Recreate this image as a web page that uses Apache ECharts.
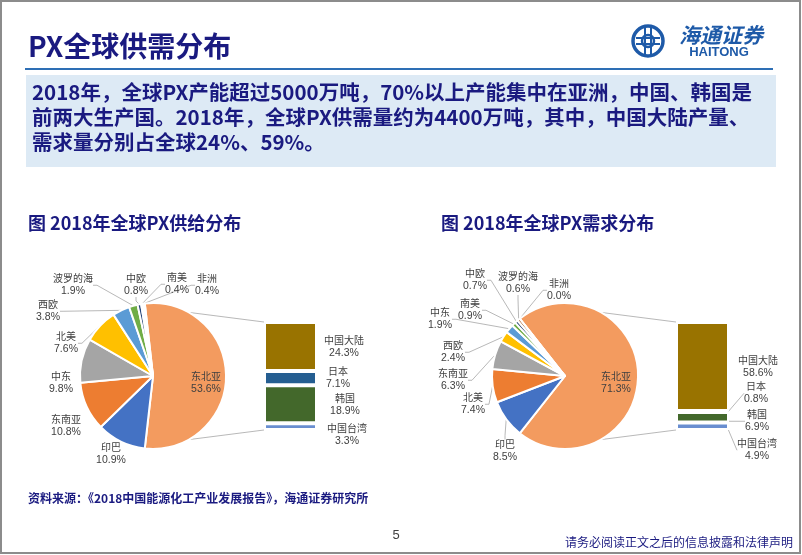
<!DOCTYPE html>
<html>
<head>
<meta charset="utf-8">
<script src="https://cdn.jsdelivr.net/npm/echarts@6.0.0/dist/echarts.min.js"></script>
<style>
html,body{margin:0;padding:0;background:#fff;}
#c{width:802px;height:555px;}
</style>
</head>
<body>
<div id="c"></div>
<script>
// ---------- DATA ----------
const supplyNames = ['东北亚','印巴','东南亚','中东','北美','西欧','波罗的海','中欧','南美','非洲'];
const supplyValues = [53.6, 10.9, 10.8, 9.8, 7.6, 3.8, 1.9, 0.8, 0.4, 0.4];
const supplySubNames = ['中国大陆','日本','韩国','中国台湾'];
const supplySubValues = [24.3, 7.1, 18.9, 3.3];

const demandNames = ['东北亚','印巴','北美','东南亚','西欧','中东','南美','中欧','波罗的海','非洲'];
const demandValues = [71.3, 8.5, 7.4, 6.3, 2.4, 1.9, 0.9, 0.7, 0.6, 0.0];
const demandSubNames = ['中国大陆','日本','韩国','中国台湾'];
const demandSubValues = [58.6, 0.8, 6.9, 4.9];

const slideTitle = 'PX全球供需分布';
const summaryLines = [
  '2018年，全球PX产能超过5000万吨，70%以上产能集中在亚洲，中国、韩国是',
  '前两大生产国。2018年，全球PX供需量约为4400万吨，其中，中国大陆产量、',
  '需求量分别占全球24%、59%。'
];
const leftTitle = '图 2018年全球PX供给分布';
const rightTitle = '图 2018年全球PX需求分布';
const sourceText = '资料来源：《2018中国能源化工产业发展报告》，海通证券研究所';
const pageNo = '5';
const disclaimer = '请务必阅读正文之后的信息披露和法律声明';

// ---------- STYLE / LAYOUT ----------
const navy = '#1A1A80';
const pieColors = ['#F39B5F','#4472C4','#ED7D31','#A5A5A5','#FFC000','#5B9BD5','#70AD47','#264478','#9E480E','#636363'];
const subColors = ['#997300','#255E91','#43682B','#698ED0'];
const R = 73;
const leftCenter = [153, 376];
const rightCenter = [565, 376];
const leftGrid = {left: 264, top: 322, width: 53, height: 108};
const rightGrid = {left: 676, top: 322, width: 53, height: 108};

const supplyLabelPos = [[206,383],[111,454],[66,426],[61,383],[66,343],[48,311],[73,285],[136,285],[177,284],[207,285]];
const supplyLabelLine = [false,false,false,false,true,true,true,true,true,true];
const supplySubLabelPos = [[344,347],[338,378],[345,405],[347,435]];
const supplySubLabelLine = [false,false,false,false];

const demandLabelPos = [[616,383],[505,451],[473,404],[453,380],[453,352],[440,319],[470,310],[475,280],[518,283],[559,290]];
const demandLabelLine = [false,true,true,true,true,true,true,true,true,true];
const demandSubLabelPos = [[758,367],[756,393],[757,421],[757,450]];
const demandSubLabelLine = [false,true,true,true];

const rich = {
  n: {fontFamily: 'Noto Sans CJK SC', fontSize: 10, color: '#404040', lineHeight: 13},
  v: {fontFamily: 'Liberation Sans, Arial, sans-serif', fontSize: 10.5, color: '#404040', lineHeight: 13}
};
const guide = {color: '#A6A6A6', width: 0.8};

function fmt(name, v) { return '{n|' + name + '}\n{v|' + Number(v).toFixed(1) + '%}'; }

function pieSeries(names, values, center, labelPos, lineOn) {
  return {
    type: 'pie', center: center, radius: R,
    startAngle: 3.6 * values[0] / 2, clockwise: true,
    avoidLabelOverlap: false, animation: false, silent: true,
    itemStyle: {borderColor: '#fff', borderWidth: 2},
    label: {show: true, position: 'outside', align: 'center', formatter: p => fmt(p.name, p.value), rich: rich},
    labelLine: {show: true, length: 4, length2: 4, lineStyle: guide},
    labelLayout: p => ({x: labelPos[p.dataIndex][0], y: labelPos[p.dataIndex][1], align: 'center', verticalAlign: 'middle'}),
    data: names.map((n, i) => ({name: n, value: values[i], itemStyle: {color: pieColors[i]}, labelLine: {show: lineOn[i], lineStyle: guide}}))
  };
}

function barSeries(names, values, gi, labelPos, lineOn) {
  const out = [];
  for (let i = names.length - 1; i >= 0; i--) {
    const pos = labelPos[i];
    out.push({
      type: 'bar', name: names[i], xAxisIndex: gi, yAxisIndex: gi, stack: 'sub' + gi,
      barWidth: '100%', animation: false, silent: true,
      data: [values[i]],
      itemStyle: {color: subColors[i], borderColor: '#fff', borderWidth: 2},
      label: {show: true, position: 'right', align: 'center', formatter: p => fmt(p.seriesName, p.value), rich: rich},
      labelLine: {show: lineOn[i], lineStyle: guide},
      labelLayout: () => ({x: pos[0], y: pos[1], align: 'center', verticalAlign: 'middle'})
    });
  }
  return out;
}

const sum = a => a.reduce((s, x) => s + x, 0);
const supplyMax = sum(supplySubValues);
const demandMax = sum(demandSubValues);

const chart = echarts.init(document.getElementById('c'), null, {renderer: 'canvas'});
chart.setOption({
  backgroundColor: '#fff',
  animation: false,
  grid: [
    Object.assign({containLabel: false}, leftGrid),
    Object.assign({containLabel: false}, rightGrid)
  ],
  xAxis: [
    {type: 'category', gridIndex: 0, data: ['x'], show: false},
    {type: 'category', gridIndex: 1, data: ['x'], show: false}
  ],
  yAxis: [
    {type: 'value', gridIndex: 0, min: 0, max: supplyMax, show: false},
    {type: 'value', gridIndex: 1, min: 0, max: demandMax, show: false}
  ],
  series: [
    pieSeries(supplyNames, supplyValues, leftCenter, supplyLabelPos, supplyLabelLine),
    ...barSeries(supplySubNames, supplySubValues, 0, supplySubLabelPos, supplySubLabelLine),
    pieSeries(demandNames, demandValues, rightCenter, demandLabelPos, demandLabelLine),
    ...barSeries(demandSubNames, demandSubValues, 1, demandSubLabelPos, demandSubLabelLine)
  ]
});

function connectors(center, gi, gridLeft, ymax) {
  const yTop = chart.convertToPixel({yAxisIndex: gi}, ymax);
  const yBot = chart.convertToPixel({yAxisIndex: gi}, 0);
  const a = 70 * Math.PI / 180, r0 = R * 0.95;
  const st = {stroke: '#A6A6A6', lineWidth: 0.8};
  return [
    {type: 'line', z: 1, silent: true, shape: {x1: center[0] + r0 * Math.cos(a), y1: center[1] - r0 * Math.sin(a), x2: gridLeft, y2: yTop}, style: st},
    {type: 'line', z: 1, silent: true, shape: {x1: center[0] + r0 * Math.cos(a), y1: center[1] + r0 * Math.sin(a), x2: gridLeft, y2: yBot}, style: st}
  ];
}

const cjk = 'Noto Sans CJK SC';
const logoBlue = '#1E5AA8';
const elements = [
  {type: 'rect', z: 0, silent: true, shape: {x: 1, y: 1, width: 799, height: 552}, style: {fill: '#fff', stroke: '#8C8C8C', lineWidth: 2}},
  {type: 'text', z: 5, style: {text: slideTitle, x: 28, y: 46, fill: navy, font: 'bold 28px "' + cjk + '"', verticalAlign: 'middle'}},
  {type: 'line', z: 5, shape: {x1: 25, y1: 69, x2: 773, y2: 69}, style: {stroke: '#2E6FB5', lineWidth: 2}},
  {type: 'rect', z: 0, shape: {x: 26, y: 75, width: 750, height: 92}, style: {fill: '#DDEAF5'}},
  // logo
  {type: 'circle', z: 5, shape: {cx: 648, cy: 41, r: 15}, style: {fill: 'none', stroke: logoBlue, lineWidth: 3.5}},
  {type: 'circle', z: 5, shape: {cx: 648, cy: 41, r: 6}, style: {fill: 'none', stroke: logoBlue, lineWidth: 2.5}},
  {type: 'line', z: 5, shape: {x1: 636, y1: 38, x2: 660, y2: 38}, style: {stroke: logoBlue, lineWidth: 2}},
  {type: 'line', z: 5, shape: {x1: 636, y1: 44, x2: 660, y2: 44}, style: {stroke: logoBlue, lineWidth: 2}},
  {type: 'line', z: 5, shape: {x1: 645, y1: 28, x2: 645, y2: 54}, style: {stroke: logoBlue, lineWidth: 2}},
  {type: 'line', z: 5, shape: {x1: 651, y1: 28, x2: 651, y2: 54}, style: {stroke: logoBlue, lineWidth: 2}},
  {type: 'text', z: 5, style: {text: '海通证券', x: 721, y: 35, fill: logoBlue, font: 'italic bold 21px "' + cjk + '"', align: 'center', verticalAlign: 'middle'}},
  {type: 'text', z: 5, style: {text: 'HAITONG', x: 719, y: 52, fill: logoBlue, font: 'bold 13px "Liberation Sans", Arial', align: 'center', verticalAlign: 'middle'}},
  // chart titles
  {type: 'text', z: 5, style: {text: leftTitle, x: 28, y: 223, fill: navy, font: 'bold 18px "' + cjk + '"', verticalAlign: 'middle'}},
  {type: 'text', z: 5, style: {text: rightTitle, x: 441, y: 223, fill: navy, font: 'bold 18px "' + cjk + '"', verticalAlign: 'middle'}},
  // footer
  {type: 'text', z: 5, style: {text: sourceText, x: 28, y: 498, fill: navy, font: 'bold 12px "' + cjk + '"', verticalAlign: 'middle'}},
  {type: 'text', z: 5, style: {text: pageNo, x: 396, y: 535, fill: '#404040', font: '13px "Liberation Sans", Arial', align: 'center', verticalAlign: 'middle'}},
  {type: 'text', z: 5, style: {text: disclaimer, x: 793, y: 542, fill: navy, font: '12px "' + cjk + '"', align: 'right', verticalAlign: 'middle'}}
];
summaryLines.forEach((t, i) => {
  elements.push({type: 'text', z: 5, style: {text: t, x: 32, y: 92 + i * 25, fill: navy, font: 'bold 20.5px "' + cjk + '"', verticalAlign: 'middle'}});
});
elements.push(...connectors(leftCenter, 0, leftGrid.left, supplyMax));
elements.push(...connectors(rightCenter, 1, rightGrid.left, demandMax));

chart.setOption({graphic: {elements: elements}});
</script>
</body>
</html>
